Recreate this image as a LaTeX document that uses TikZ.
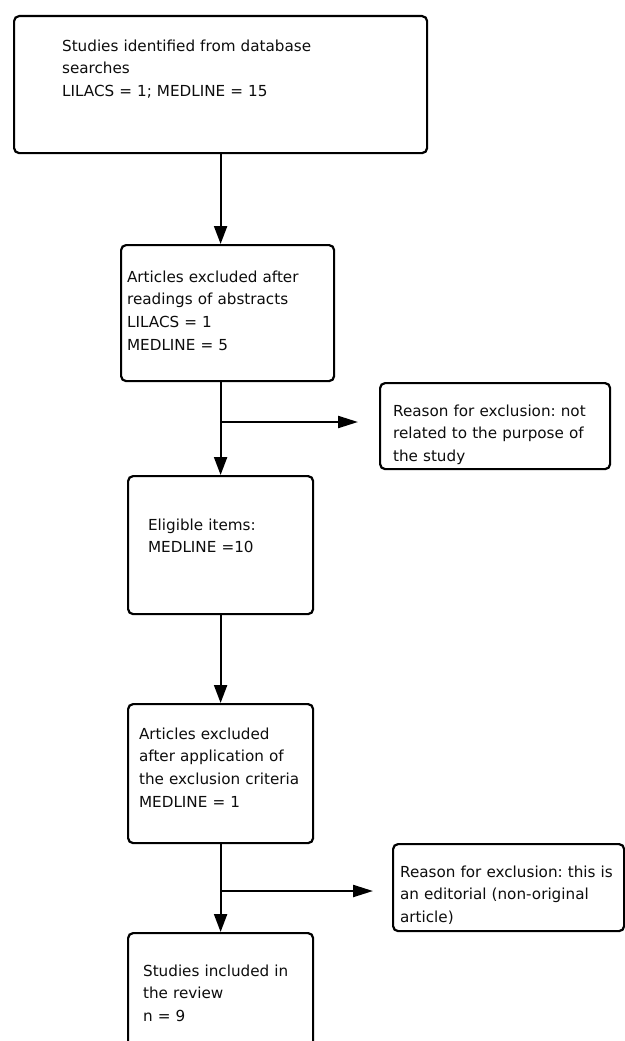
\documentclass[tikz,border=0pt]{standalone}
\usepackage{fontspec}
\setmainfont{DejaVu Sans}
\usetikzlibrary{arrows.meta, calc}
\frenchspacing

\begin{document}
\begin{tikzpicture}[
                x=1pt, y=-1pt,
                box/.style={rectangle, draw=black, line width=2.2pt, rounded corners=5pt, fill=white, anchor=north west, align=left, inner ysep=0pt, text=black!95, font=\fontsize{15.2}{22.7}\selectfont},
                arrow/.style={line width=2.2pt, -{Triangle[length=18pt, width=13pt]}},
                side/.style={-{Triangle[length=20pt, width=12pt]}}
            ]
                \useasboundingbox (0,0) rectangle (624,1041);

                % Nodes
                \node (found) [box, text width=317pt, inner xsep=48pt, text height=35pt, text depth=102pt] at (13,15) {Studies identified from database\\ searches\\ LILACS = 1; MEDLINE = 15};
                \node (abstracts) [box, text width=201pt, inner xsep=6pt, text height=37pt, text depth=99pt] at (120,244) {Articles excluded after\\ readings of abstracts\\ LILACS = 1\\ MEDLINE = 5};
                \node (reason1) [box, text width=204pt, inner xsep=13pt, text height=33pt, text depth=53pt] at (379,382) {Reason for exclusion: not\\ related to the purpose of\\ the study};
                \node (eligible) [box, text width=145pt, inner xsep=20pt, text height=54pt, text depth=84pt] at (127,475) {Eligible items:\\ MEDLINE =10};
                \node (criteria) [box, text width=163pt, inner xsep=11pt, text height=35pt, text depth=104pt] at (127,703) {Articles excluded\\ after application of\\ the exclusion criteria\\ MEDLINE = 1};
                \node (reason2) [box, text width=217pt, inner xsep=7pt, text height=33pt, text depth=54pt] at (392,843) {Reason for exclusion: this is\\ an editorial (non-original\\ article)};
                \node (included) [box, text width=155pt, inner xsep=15pt, text height=43pt, text depth=85pt] at (127,932) {Studies included in\\ the review\\ n = 9};

                % Branch points
                \coordinate (split1) at ([yshift=53pt]eligible.north);
                \coordinate (tip1) at ([xshift=-21pt]reason1.west |- split1);
                \coordinate (split2) at ([yshift=41pt]included.north);
                \coordinate (tip2) at ([xshift=-19pt]reason2.west |- split2);

                % Arrows
                \draw [arrow] (found.south) -- (found.south |- abstracts.north);
                \draw [arrow] (eligible.north |- abstracts.south) -- (eligible.north);
                \draw [arrow] (eligible) -- (criteria);
                \draw [arrow] (criteria) -- (included);

                % Exclusions
                \draw [arrow, side] (split1) -- (tip1);
                \draw [arrow, side] (split2) -- (tip2);
            \end{tikzpicture}
\end{document}
